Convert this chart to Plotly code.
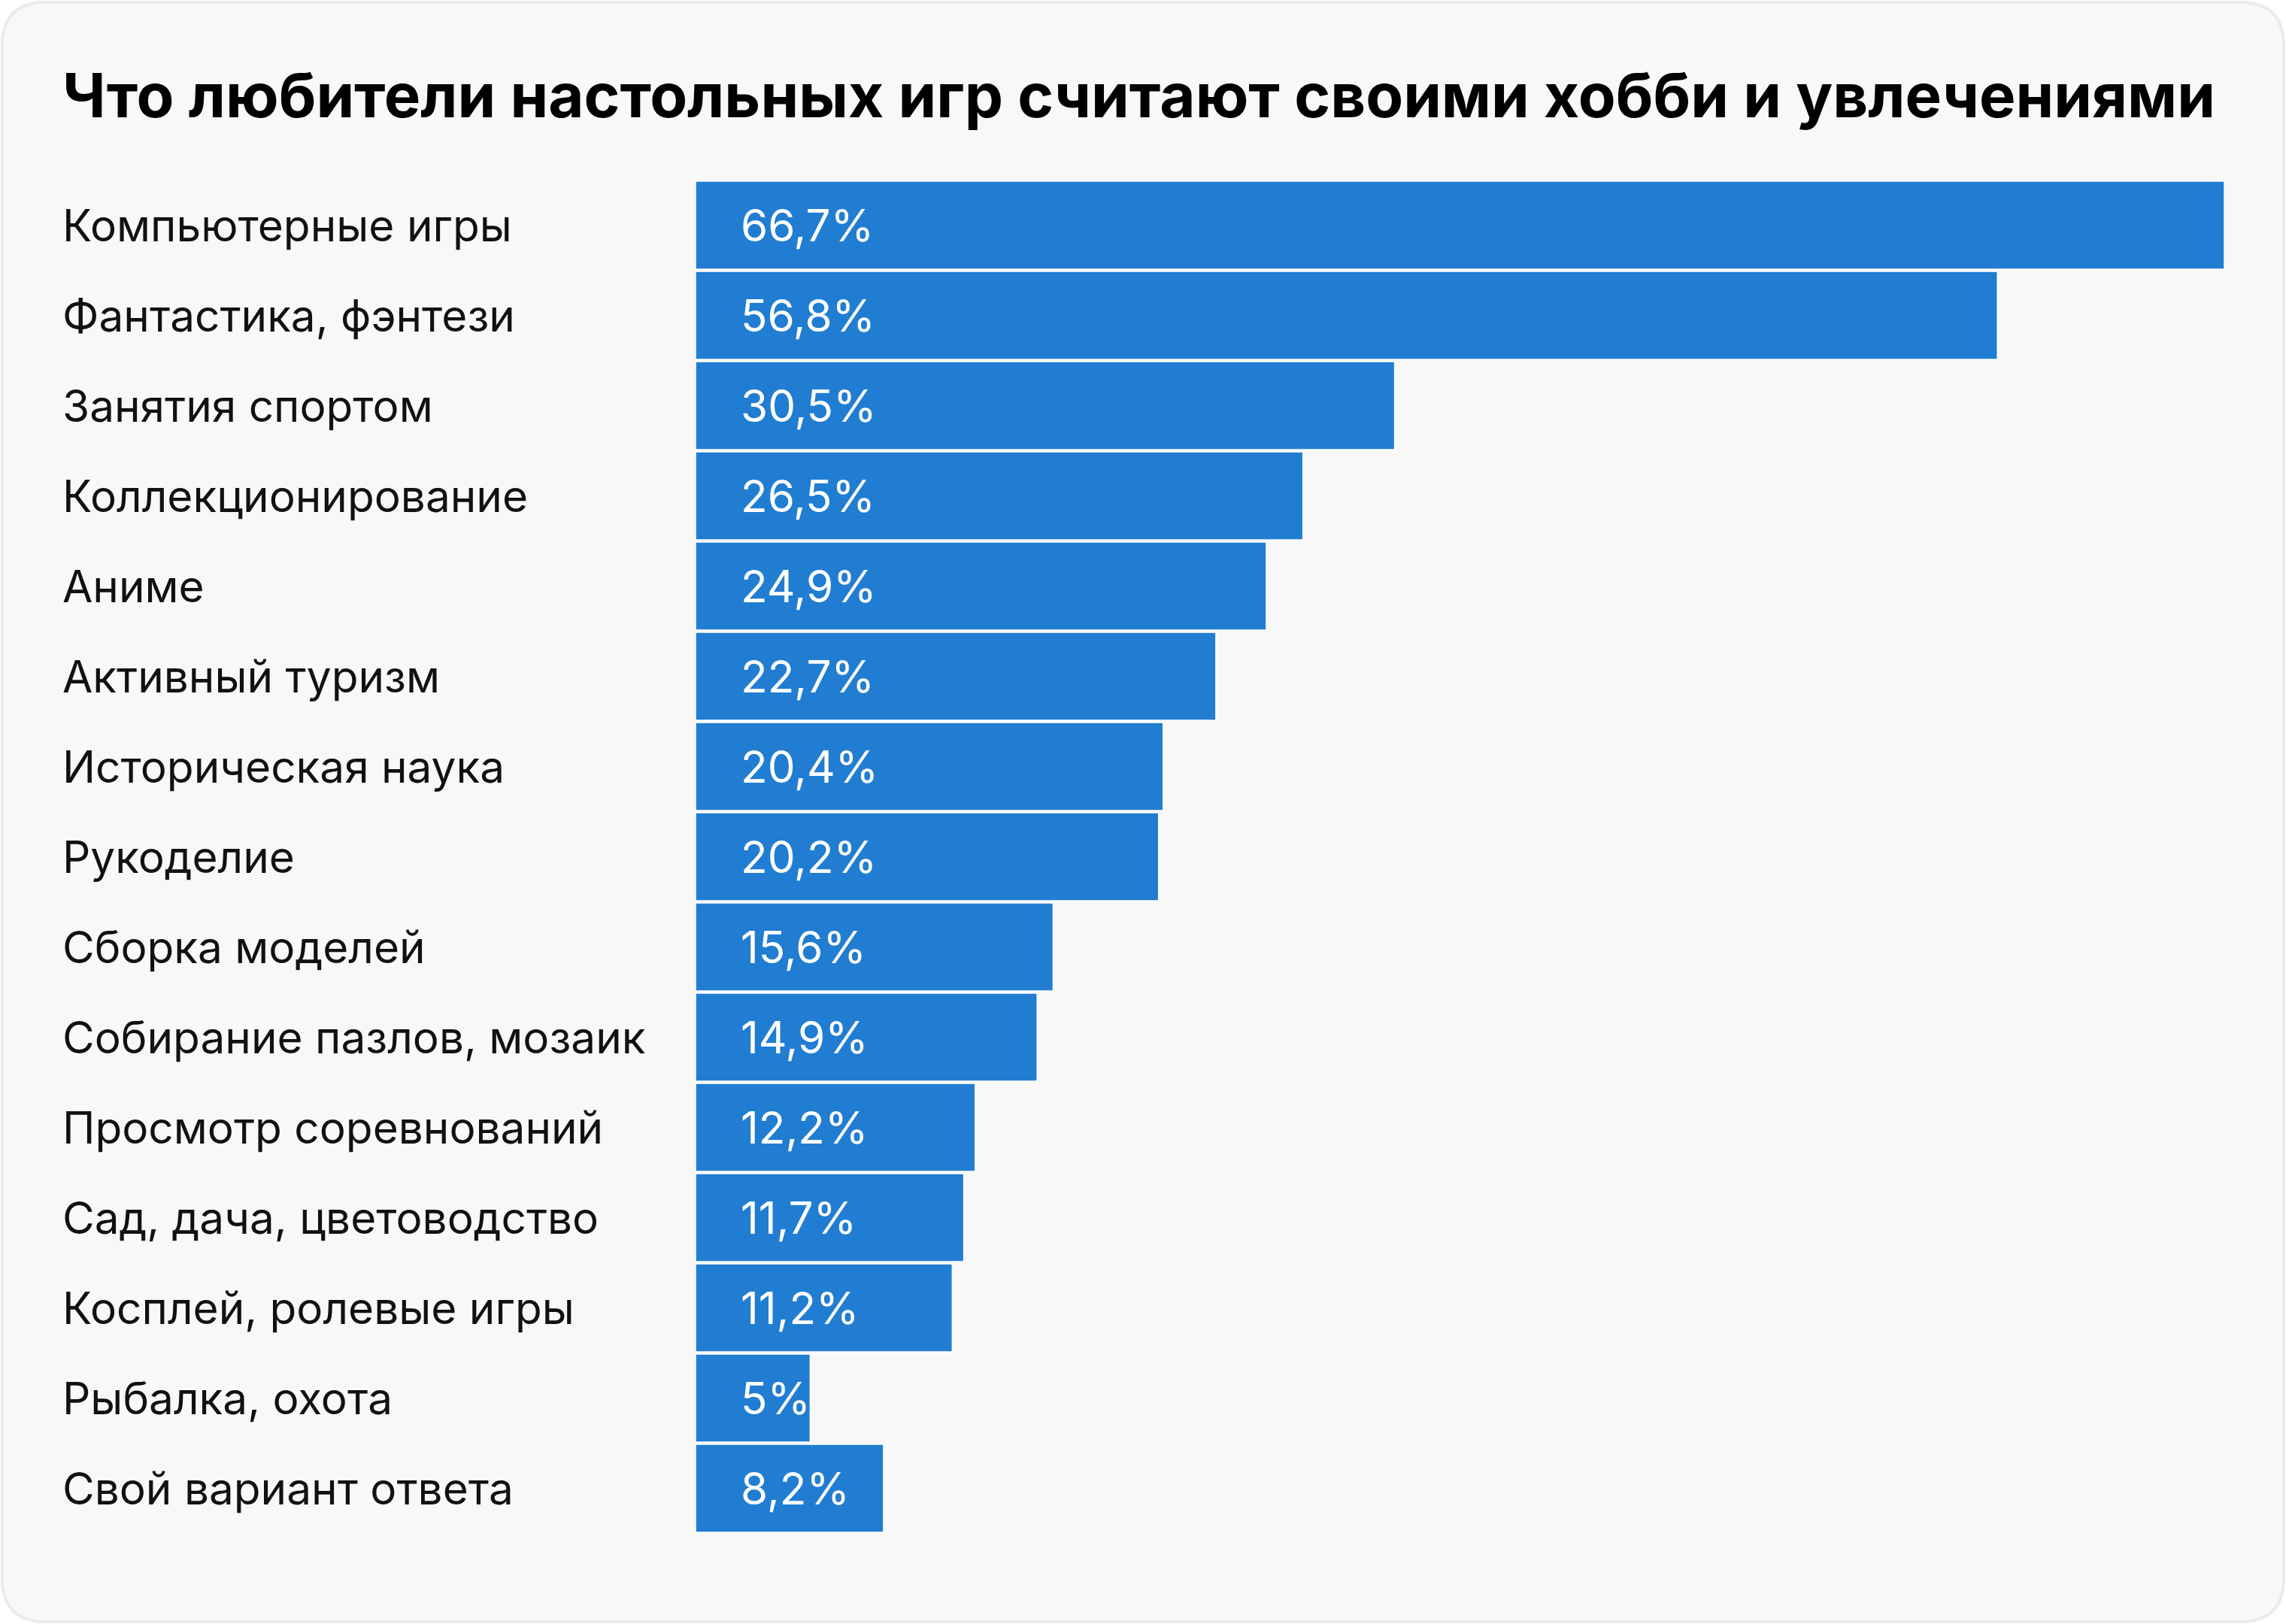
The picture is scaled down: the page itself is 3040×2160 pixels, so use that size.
import plotly.graph_objects as go

categories = [
    "Компьютерные игры",
    "Фантастика, фэнтези",
    "Занятия спортом",
    "Коллекционирование",
    "Аниме",
    "Активный туризм",
    "Историческая наука",
    "Рукоделие",
    "Сборка моделей",
    "Собирание пазлов, мозаик",
    "Просмотр соревнований",
    "Сад, дача, цветоводство",
    "Косплей, ролевые игры",
    "Рыбалка, охота",
    "Свой вариант ответа",
]
values = [66.7, 56.8, 30.5, 26.5, 24.9, 22.7, 20.4, 20.2, 15.6, 14.9, 12.2, 11.7, 11.2, 5, 8.2]
value_labels = ["66,7%", "56,8%", "30,5%", "26,5%", "24,9%", "22,7%", "20,4%", "20,2%",
                "15,6%", "14,9%", "12,2%", "11,7%", "11,2%", "5%", "8,2%"]
title = "Что любители настольных игр считают своими хобби и увлечениями"

W, H = 3040, 2160
FONT = "Inter"
BAR = "#217dd1"

fig = go.Figure()
fig.add_trace(go.Bar(
    x=values, y=categories, orientation="h",
    marker=dict(color=BAR, line=dict(color="#ffffff", width=1.5)),
    hoverinfo="skip",
))

annotations = []
for c, lab in zip(categories, value_labels):
    annotations.append(dict(
        x=0, y=c, xref="x", yref="y", text=lab, showarrow=False,
        xanchor="left", yanchor="middle", xshift=58,
        font=dict(family=FONT, size=58.5, color="#ffffff"),
    ))
    annotations.append(dict(
        x=81 / W, y=c, xref="paper", yref="y", text=c, showarrow=False,
        xanchor="left", yanchor="middle",
        font=dict(family=FONT, size=58.5, color="#111111"),
    ))
annotations.append(dict(
    x=81 / W, y=1 - 126 / H, xref="paper", yref="paper", text="<b>" + title + "</b>",
    showarrow=False, xanchor="left", yanchor="middle",
    font=dict(family=FONT, size=81.5, color="#000000"),
))

# rounded card
x0, y0, x1, y1, r = 3, 3, 3037, 2157, 58
def px(x): return x / W
def py(y): return 1 - y / H
path = (f"M {px(x0+r)},{py(y0)} L {px(x1-r)},{py(y0)} Q {px(x1)},{py(y0)} {px(x1)},{py(y0+r)} "
        f"L {px(x1)},{py(y1-r)} Q {px(x1)},{py(y1)} {px(x1-r)},{py(y1)} "
        f"L {px(x0+r)},{py(y1)} Q {px(x0)},{py(y1)} {px(x0)},{py(y1-r)} "
        f"L {px(x0)},{py(y0+r)} Q {px(x0)},{py(y0)} {px(x0+r)},{py(y0)} Z")

fig.update_layout(
    width=W, height=H,
    margin=dict(l=0, r=0, t=0, b=0),
    paper_bgcolor="#ffffff", plot_bgcolor="rgba(0,0,0,0)",
    showlegend=False,
    bargap=0.025,
    xaxis=dict(domain=[925 / W, 2958 / W], range=[0, 66.7], visible=False, fixedrange=True),
    yaxis=dict(domain=[1 - 2039.5 / H, 1 - 239.5 / H], autorange="reversed",
               categoryorder="array", categoryarray=categories,
               visible=False, fixedrange=True),
    annotations=annotations,
    shapes=[dict(type="path", path=path, xref="paper", yref="paper",
                 fillcolor="#f8f8f8", line=dict(color="#ebebeb", width=4), layer="below")],
)

fig.write_html("out.html", config={"displayModeBar": False},
               post_script="document.body.style.margin='0';document.body.style.overflow='hidden';")
